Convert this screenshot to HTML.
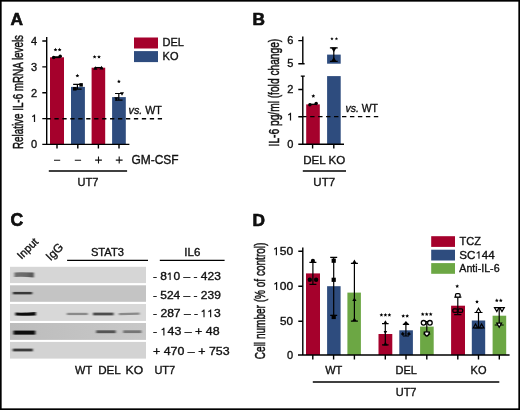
<!DOCTYPE html>
<html><head><meta charset="utf-8">
<style>
html,body{margin:0;padding:0;background:#fff;}
body{width:520px;height:410px;overflow:hidden;}
svg{display:block;will-change:transform;}
text{font-family:"Liberation Sans",sans-serif;fill:#111;stroke:#111;stroke-width:0.35px;}
</style></head>
<body>
<svg width="520" height="410" viewBox="0 0 520 410">
<defs>
<linearGradient id="g4" x1="0" x2="1" y1="0" y2="0"><stop offset="0" stop-color="#bcbcbc"/><stop offset="1" stop-color="#c8c8c8"/></linearGradient>
<linearGradient id="g1" x1="0" x2="1" y1="0" y2="0"><stop offset="0" stop-color="#707070"/><stop offset="0.6" stop-color="#6a6a6a"/><stop offset="1" stop-color="#505050"/></linearGradient>
<filter id="bl1" x="-20%" y="-100%" width="140%" height="300%"><feGaussianBlur stdDeviation="0.8 0.6"/></filter>
<filter id="nz" x="0" y="0" width="100%" height="100%"><feTurbulence type="fractalNoise" baseFrequency="0.9" numOctaves="1" seed="3" result="n"/><feColorMatrix in="n" type="matrix" values="0 0 0 0 0  0 0 0 0 0  0 0 0 0 0  0 0 0 0.10 0"/><feComposite in2="SourceGraphic" operator="in"/><feBlend in2="SourceGraphic" mode="normal"/></filter>
</defs>
<rect x="0" y="0" width="520" height="410" fill="#fff"/>
<rect x="0.83" y="0.83" width="518.34" height="408.34" fill="none" stroke="#000" stroke-width="1.66"/>

<text x="10.5" y="25.3" font-size="17.3" font-weight="bold" fill="#000" style="stroke:#000;stroke-width:0.6px">A</text>
<text transform="translate(22.8,92) rotate(-90)" font-size="15" text-anchor="middle" textLength="114" lengthAdjust="spacingAndGlyphs" style="stroke-width:0.5px">Relative IL-6 mRNA levels</text>
<text x="37" y="148.3" font-size="11" text-anchor="end">0</text>
<path d="M34.5 114.6 V121.9 M34.70 114.90 Q33.60 116.30 32.20 116.60" stroke="#111" stroke-width="1.2" fill="none"/>
<text x="37" y="96.6" font-size="11" text-anchor="end">2</text>
<text x="37" y="70.75" font-size="11" text-anchor="end">3</text>
<text x="37" y="44.9" font-size="11" text-anchor="end">4</text>
<rect x="50" y="57.3" width="14" height="87.1" fill="#a5012c"/>
<rect x="71" y="86.9" width="13.9" height="57.5" fill="#2e4c7e"/>
<rect x="91.6" y="67.7" width="13.6" height="76.7" fill="#a5012c"/>
<rect x="112.1" y="97.1" width="13.7" height="47.3" fill="#2e4c7e"/>
<g stroke="#000" stroke-width="1.4" fill="none">
<path d="M46.7 37 V144.4 M42.3 41 H46.7 M42.3 66.9 H46.7 M42.3 92.7 H46.7 M42.3 118.6 H46.7 M42.3 144.4 H129.4"/>
<path d="M57 144.4 V148.6 M77.8 144.4 V148.6 M98.4 144.4 V148.6 M119 144.4 V148.6"/>
</g>
<path d="M46.45 118.7 H162.1" stroke="#000" stroke-dasharray="4.3 3.65" stroke-width="1.4"/>
<path d="M54 57.2 H60" stroke="#000" stroke-width="1.9"/>
<circle cx="53.6" cy="57.6" r="1.75" fill="#000" stroke="#000" stroke-width="0"/><circle cx="60.2" cy="56.3" r="1.75" fill="#000" stroke="#000" stroke-width="0"/>
<path d="M77.4 84.4 V89.1 M73.15 84.4 H81.65 M73.15 89.1 H81.65" stroke="#000" stroke-width="1.2" fill="none"/>
<rect x="79.35" y="83.15" width="3.5" height="3.5" fill="#000" stroke="#000" stroke-width="0"/><rect x="73.05" y="87.05" width="3.5" height="3.5" fill="#000" stroke="#000" stroke-width="0"/>
<path d="M94.5 67.6 H102.5" stroke="#000" stroke-width="1.3"/>
<path d="M93.30 69.82 L95.40 66.18 L97.50 69.82Z" fill="#000" stroke="#000" stroke-width="0"/><path d="M99.40 69.42 L101.50 65.78 L103.60 69.42Z" fill="#000" stroke="#000" stroke-width="0"/>
<path d="M118.8 93.5 V100.2 M115.05 93.5 H122.55 M115.05 100.2 H122.55" stroke="#000" stroke-width="1.2" fill="none"/>
<path d="M120.00 92.17 L122.00 95.63 L124.00 92.17Z" fill="#000" stroke="#000" stroke-width="0"/><path d="M114.30 97.27 L116.30 100.73 L118.30 97.27Z" fill="#000" stroke="#000" stroke-width="0"/>
<polygon points="55.50,47.70 56.06,48.93 57.40,49.08 56.40,49.99 56.68,51.32 55.50,50.65 54.32,51.32 54.60,49.99 53.60,49.08 54.94,48.93" fill="#000"/><polygon points="59.60,47.70 60.16,48.93 61.50,49.08 60.50,49.99 60.78,51.32 59.60,50.65 58.42,51.32 58.70,49.99 57.70,49.08 59.04,48.93" fill="#000"/>
<polygon points="77.40,73.70 77.96,74.93 79.30,75.08 78.30,75.99 78.58,77.32 77.40,76.65 76.22,77.32 76.50,75.99 75.50,75.08 76.84,74.93" fill="#000"/>
<polygon points="94.60,54.90 95.16,56.13 96.50,56.28 95.50,57.19 95.78,58.52 94.60,57.85 93.42,58.52 93.70,57.19 92.70,56.28 94.04,56.13" fill="#000"/><polygon points="99.00,54.90 99.56,56.13 100.90,56.28 99.90,57.19 100.18,58.52 99.00,57.85 97.82,58.52 98.10,57.19 97.10,56.28 98.44,56.13" fill="#000"/>
<polygon points="118.90,79.50 119.46,80.73 120.80,80.88 119.80,81.79 120.08,83.12 118.90,82.45 117.72,83.12 118.00,81.79 117.00,80.88 118.34,80.73" fill="#000"/>
<rect x="134" y="37.5" width="24" height="11" fill="#a5012c"/>
<rect x="134" y="51.1" width="24" height="11" fill="#2e4c7e"/>
<text x="162.6" y="46.3" font-size="11">DEL</text>
<text x="162.6" y="59.9" font-size="11">KO</text>
<text x="128.6" y="114.1" font-size="11" textLength="33.3" lengthAdjust="spacingAndGlyphs"><tspan font-style="italic">vs.</tspan> WT</text>
<path d="M54 160.3 H60.2 M74.8 160.3 H81.1 M95.1 160.1 H101.9 M98.5 156.6 V163.6 M115.8 160.1 H122.6 M119.2 156.6 V163.6" stroke="#111" stroke-width="1.1"/>
<text x="131.4" y="163.6" font-size="12" textLength="47.2" lengthAdjust="spacingAndGlyphs">GM-CSF</text>
<path d="M48.8 171 H127.1" stroke="#000" stroke-width="1.3"/>
<text x="88" y="186" font-size="11" text-anchor="middle">UT7</text>
<text x="252.6" y="25.3" font-size="17.3" font-weight="bold" fill="#000" style="stroke:#000;stroke-width:0.6px">B</text>
<text transform="translate(278.9,92.6) rotate(-90)" font-size="15" text-anchor="middle" textLength="107.6" lengthAdjust="spacingAndGlyphs" style="stroke-width:0.5px">IL-6 pg/ml (fold change)</text>
<text x="293.3" y="44.1" font-size="11" text-anchor="end">6</text>
<text x="293.3" y="67.3" font-size="11" text-anchor="end">5</text>
<text x="293.3" y="93.0" font-size="11" text-anchor="end">2</text>
<path d="M290.5 112.8 V120.6 M290.70 113.10 Q289.60 114.50 288.20 114.80" stroke="#111" stroke-width="1.2" fill="none"/>
<text x="293.3" y="147.7" font-size="11" text-anchor="end">0</text>
<rect x="306.2" y="104.4" width="13.6" height="40" fill="#a5012c"/>
<rect x="327.1" y="54.6" width="13.6" height="9.1" fill="#2e4c7e"/>
<rect x="327.1" y="76.1" width="13.6" height="68.3" fill="#2e4c7e"/>
<g stroke="#000" stroke-width="1.4" fill="none">
<path d="M302.8 36.5 V63.8 M298.3 40.6 H302.8 M298.3 63.8 H304.6"/>
<path d="M302.8 76.1 V144.3 M300.8 76.1 H304.8 M298.3 89.5 H302.8 M298.3 116.8 H302.8 M298.3 144.3 H344"/>
<path d="M312.6 144.3 V148.6 M333.8 144.3 V148.6"/>
</g>
<path d="M302.2 116.6 H379" stroke="#000" stroke-width="1.4" stroke-dasharray="4.4 3.56"/>
<path d="M310 104.3 H316" stroke="#000" stroke-width="1.3"/>
<circle cx="309.9" cy="104.8" r="1.75" fill="#000" stroke="#000" stroke-width="0"/><circle cx="316.2" cy="103.5" r="1.75" fill="#000" stroke="#000" stroke-width="0"/>
<path d="M333.8 47.8 V61.3 M329.90 47.8 H337.70 M329.90 61.3 H337.70" stroke="#000" stroke-width="1.2" fill="none"/>
<path d="M331.00 47.38 L333.80 52.22 L336.60 47.38Z" fill="#000" stroke="#000" stroke-width="0"/><path d="M331.00 61.82 L333.80 56.98 L336.60 61.82Z" fill="#000" stroke="#000" stroke-width="0"/>
<polygon points="313.30,94.10 313.86,95.33 315.20,95.48 314.20,96.39 314.48,97.72 313.30,97.05 312.12,97.72 312.40,96.39 311.40,95.48 312.74,95.33" fill="#000"/>
<polygon points="331.95,37.05 332.42,38.15 333.61,38.26 332.71,39.05 332.98,40.22 331.95,39.60 330.92,40.22 331.19,39.05 330.29,38.26 331.48,38.15" fill="#000"/><polygon points="336.45,37.05 336.92,38.15 338.11,38.26 337.21,39.05 337.48,40.22 336.45,39.60 335.42,40.22 335.69,39.05 334.79,38.26 335.98,38.15" fill="#000"/>
<text x="345.5" y="111.8" font-size="11" textLength="32.5" lengthAdjust="spacingAndGlyphs"><tspan font-style="italic">vs.</tspan> WT</text>
<text x="303.2" y="163.9" font-size="11.5" textLength="42" lengthAdjust="spacingAndGlyphs">DEL KO</text>
<path d="M302.8 171 H346" stroke="#000" stroke-width="1.3"/>
<text x="324.2" y="186.3" font-size="11.5" text-anchor="middle">UT7</text>
<text x="10.6" y="226.1" font-size="17.6" font-weight="bold" fill="#000" style="stroke:#000;stroke-width:0.6px">C</text>
<text transform="translate(21.6,259.8) rotate(-45)" font-size="11">Input</text>
<text transform="translate(50.6,261.2) rotate(-45)" font-size="11.8">IgG</text>
<text x="107.4" y="256" font-size="11" text-anchor="middle" textLength="33" lengthAdjust="spacingAndGlyphs">STAT3</text>
<path d="M67.1 260.4 H148" stroke="#000" stroke-width="1.3"/>
<text x="192.3" y="256" font-size="11.5" text-anchor="middle" textLength="16" lengthAdjust="spacingAndGlyphs">IL6</text>
<path d="M159.8 260.4 H224.6" stroke="#000" stroke-width="1.3"/>
<rect x="10" y="266.8" width="136" height="16.3" fill="#d6d6d6"/>
<rect x="10" y="285.3" width="136" height="16.5" fill="#c4c4c4"/>
<rect x="10" y="304.0" width="136" height="16.9" fill="#d8d8d8"/>
<rect x="10" y="323.0" width="136" height="16.9" fill="url(#g4)"/>
<rect x="10" y="341.9" width="136" height="16.7" fill="#d3d3d3"/>
<g filter="url(#bl1)">
<path d="M14.4 272.4 Q24 272.2 33.8 272.6 L33.8 277.4 Q24 276.6 14.4 277.0Z" fill="url(#g1)"/>
<path d="M12.9 291.9 H32.2 V294.4 H12.9Z" fill="#383838"/>
<path d="M15.4 312.6 Q25 313.0 35.8 312.0 L35.8 315.4 Q25 315.8 15.4 315.6Z" fill="#111"/>
<rect x="66.8" y="312.8" width="21" height="2.3" fill="#8a8a8a"/>
<rect x="93" y="312.6" width="20.6" height="2.8" fill="#4e4e4e"/>
<path d="M118.8 313 L139.6 312.4 L139.6 314.8 L118.8 315.3Z" fill="#8a8a8a"/>
<rect x="13.5" y="330.6" width="21.8" height="4" fill="#0a0a0a"/>
<rect x="96.2" y="330.3" width="19.5" height="2.9" fill="#555"/>
<rect x="123.2" y="330.3" width="18.2" height="2.8" fill="#747474"/>
<rect x="12.8" y="348.6" width="20" height="2.8" fill="#3a3a3a"/>
</g>
<text x="153.0" y="280.0" font-size="11" textLength="67.8" lengthAdjust="spacingAndGlyphs">- 8<tspan style="fill:none;stroke:none">1</tspan>0 – - 423</text><path d="M170.1 272.4 V280.0 M170.30 272.70 Q169.20 274.10 167.80 274.40" stroke="#111" stroke-width="1.15" fill="none"/>
<text x="153.0" y="298.6" font-size="11" textLength="67.8" lengthAdjust="spacingAndGlyphs">- 524 – - 239</text>
<text x="153.0" y="317.2" font-size="11" textLength="67.8" lengthAdjust="spacingAndGlyphs">- 287 – - <tspan style="fill:none;stroke:none">1</tspan><tspan style="fill:none;stroke:none">1</tspan>3</text><path d="M204.0 309.6 V317.2 M204.20 309.90 Q203.10 311.30 201.70 311.60" stroke="#111" stroke-width="1.15" fill="none"/><path d="M210.65 309.6 V317.2 M210.85 309.90 Q209.75 311.30 208.35 311.60" stroke="#111" stroke-width="1.15" fill="none"/>
<text x="153.0" y="335.4" font-size="11" textLength="66.6" lengthAdjust="spacingAndGlyphs">- <tspan style="fill:none;stroke:none">1</tspan>43 – + 48</text><path d="M163.88 327.8 V335.4 M164.08 328.10 Q162.98 329.50 161.58 329.80" stroke="#111" stroke-width="1.15" fill="none"/>
<text x="153.0" y="354.6" font-size="11" textLength="76.6" lengthAdjust="spacingAndGlyphs">+ 470 – + 753</text>
<text x="75.0" y="373.8" font-size="11">WT</text>
<text x="98.2" y="373.8" font-size="11" textLength="22.6" lengthAdjust="spacingAndGlyphs">DEL</text>
<text x="125.6" y="373.8" font-size="11" textLength="17.5" lengthAdjust="spacingAndGlyphs">KO</text>
<text x="154.4" y="373.8" font-size="11">UT7</text>
<text x="252.6" y="226.4" font-size="17.3" font-weight="bold" fill="#000" style="stroke:#000;stroke-width:0.6px">D</text>
<text transform="translate(264.6,300.9) rotate(-90)" font-size="15" text-anchor="middle" textLength="116.6" lengthAdjust="spacingAndGlyphs" style="stroke-width:0.5px">Cell number (% of control)</text>
<text x="293.1" y="255.2" font-size="11" text-anchor="end" textLength="13.4" lengthAdjust="spacingAndGlyphs">50</text>
<text x="293.1" y="290.1" font-size="11" text-anchor="end" textLength="13.4" lengthAdjust="spacingAndGlyphs">00</text>
<text x="293.1" y="325.1" font-size="11" text-anchor="end" textLength="13.0" lengthAdjust="spacingAndGlyphs">50</text>
<text x="293.1" y="358.9" font-size="11" text-anchor="end">0</text>
<path d="M276.4 247.2 V255.2 M276.60 247.50 Q275.50 248.90 274.10 249.20" stroke="#111" stroke-width="1.2" fill="none"/>
<path d="M276.6 282.1 V289.9 M276.80 282.40 Q275.70 283.80 274.30 284.10" stroke="#111" stroke-width="1.2" fill="none"/>
<rect x="306" y="273.4" width="14" height="81.6" fill="#a5012c"/>
<rect x="327.1" y="286.2" width="13.5" height="68.8" fill="#2e4c7e"/>
<rect x="347.4" y="292.6" width="13.5" height="62.4" fill="#6ca744"/>
<rect x="378.5" y="334" width="13.8" height="21.0" fill="#a5012c"/>
<rect x="399.3" y="330.3" width="13.6" height="24.7" fill="#2e4c7e"/>
<rect x="420.1" y="326.6" width="13.6" height="28.4" fill="#6ca744"/>
<rect x="451.1" y="305.7" width="13.9" height="49.3" fill="#a5012c"/>
<rect x="471.8" y="320.5" width="13.4" height="34.5" fill="#2e4c7e"/>
<rect x="492.6" y="315.7" width="13.6" height="39.3" fill="#6ca744"/>
<g stroke="#000" stroke-width="1.4" fill="none">
<path d="M302.8 247.5 V355 M298.3 251.3 H302.8 M298.3 286.2 H302.8 M298.3 321.2 H302.8 M298 354.95 H509.6"/>
<path d="M312.8 355 V359.4 M333.6 355 V359.4 M354.4 355 V359.4 M385.3 355 V359.4 M406 355 V359.4 M426.8 355 V359.4 M457.8 355 V359.4 M478.5 355 V359.4 M499.3 355 V359.4"/>
</g>
<path d="M312.9 262.4 V284.3 M309.40 262.4 H316.40 M309.40 284.3 H316.40" stroke="#000" stroke-width="1.2" fill="none"/>
<path d="M333.7 257.3 V315.4 M330.20 257.3 H337.20 M330.20 315.4 H337.20" stroke="#000" stroke-width="1.2" fill="none"/>
<path d="M354.4 263.4 V321.2 M350.90 263.4 H357.90 M350.90 321.2 H357.90" stroke="#000" stroke-width="1.2" fill="none"/>
<path d="M385.3 323.6 V344.8 M382.00 323.6 H388.60 M382.00 344.8 H388.60" stroke="#000" stroke-width="1.2" fill="none"/>
<path d="M405.9 324.4 V336.0 M402.90 324.4 H408.90 M402.90 336.0 H408.90" stroke="#000" stroke-width="1.2" fill="none"/>
<path d="M426.8 321.5 V334.0 M423.30 321.5 H430.30 M423.30 334.0 H430.30" stroke="#000" stroke-width="1.2" fill="none"/>
<path d="M457.8 297.1 V314.7 M454.20 297.1 H461.40 M454.20 314.7 H461.40" stroke="#000" stroke-width="1.2" fill="none"/>
<path d="M478.5 312.5 V328.0 M474.50 312.5 H482.50 M474.50 328.0 H482.50" stroke="#000" stroke-width="1.2" fill="none"/>
<path d="M499.2 307.6 V325.0 M494.70 307.6 H503.70 M494.70 325.0 H503.70" stroke="#000" stroke-width="1.2" fill="none"/>
<circle cx="312.9" cy="260.9" r="2.1" fill="#000" stroke="#000" stroke-width="0"/>
<circle cx="309.8" cy="279.8" r="2.2" fill="#000" stroke="#000" stroke-width="0"/><circle cx="316.1" cy="279.8" r="2.2" fill="#000" stroke="#000" stroke-width="0"/>
<rect x="331.60" y="258.60" width="4.2" height="4.2" fill="#000" stroke="#000" stroke-width="0"/><rect x="331.60" y="277.70" width="4.2" height="4.2" fill="#000" stroke="#000" stroke-width="0"/><rect x="331.60" y="314.90" width="4.2" height="4.2" fill="#000" stroke="#000" stroke-width="0"/>
<path d="M352.10 263.59 L354.40 259.61 L356.70 263.59Z" fill="#000" stroke="#000" stroke-width="0"/><path d="M352.30 301.12 L354.40 297.48 L356.50 301.12Z" fill="#000" stroke="#000" stroke-width="0"/><path d="M352.30 321.12 L354.40 317.48 L356.50 321.12Z" fill="#000" stroke="#000" stroke-width="0"/>
<path d="M383.20 324.11 L385.40 320.29 L387.60 324.11Z" fill="#000" stroke="#000" stroke-width="0"/><path d="M383.60 331.04 L385.40 334.16 L387.20 331.04Z" fill="#000" stroke="#000" stroke-width="0"/><path d="M383.20 345.51 L385.40 341.69 L387.60 345.51Z" fill="#000" stroke="#000" stroke-width="0"/>
<path d="M402.6 325.0 L405.9 321.1 L409.5 325.0Z" fill="#000"/>
<path d="M401.2 333.9 L402.8 332.3 L404.4 333.9 L402.8 335.5Z M407.3 333.9 L408.9 332.3 L410.5 333.9 L408.9 335.5Z" fill="#000" stroke="#000" stroke-width="0.6"/>
<circle cx="423.6" cy="322.8" r="2.3" fill="#fff" stroke="#000" stroke-width="1.3"/><circle cx="429.9" cy="322.8" r="2.3" fill="#fff" stroke="#000" stroke-width="1.3"/><path d="M424.2 332.2 Q426.8 331.4 429.4 332.2 Q429 335.6 426.8 336.2 Q424.6 335.6 424.2 332.2Z" fill="#fff" stroke="#000" stroke-width="1.3"/>
<rect x="455.5" y="293.6" width="4.6" height="3.6" rx="1.3" fill="#fff" stroke="#000" stroke-width="1.3"/>
<rect x="452.8" y="308.9" width="4.6" height="3.4" rx="1.2" fill="none" stroke="#000" stroke-width="1.3"/><rect x="458.1" y="308.9" width="4.6" height="3.4" rx="1.2" fill="none" stroke="#000" stroke-width="1.3"/>
<path d="M476.10 312.48 L478.50 308.32 L480.90 312.48Z" fill="#fff" stroke="#000" stroke-width="1.2"/><path d="M473.20 327.99 L475.50 324.01 L477.80 327.99Z" fill="none" stroke="#000" stroke-width="1.2"/><path d="M479.30 327.99 L481.60 324.01 L483.90 327.99Z" fill="none" stroke="#000" stroke-width="1.2"/>
<path d="M494.50 307.61 L496.80 311.59 L499.10 307.61Z" fill="#fff" stroke="#000" stroke-width="1.2"/><path d="M499.70 307.61 L502.00 311.59 L504.30 307.61Z" fill="#fff" stroke="#000" stroke-width="1.2"/><path d="M496.80 323.12 L499.20 327.28 L501.60 323.12Z" fill="#fff" stroke="#000" stroke-width="1.2"/>
<polygon points="381.40,313.00 381.96,314.23 383.30,314.38 382.30,315.29 382.58,316.62 381.40,315.95 380.22,316.62 380.50,315.29 379.50,314.38 380.84,314.23" fill="#000"/><polygon points="385.40,313.00 385.96,314.23 387.30,314.38 386.30,315.29 386.58,316.62 385.40,315.95 384.22,316.62 384.50,315.29 383.50,314.38 384.84,314.23" fill="#000"/><polygon points="389.40,313.00 389.96,314.23 391.30,314.38 390.30,315.29 390.58,316.62 389.40,315.95 388.22,316.62 388.50,315.29 387.50,314.38 388.84,314.23" fill="#000"/>
<polygon points="403.20,314.00 403.76,315.23 405.10,315.38 404.10,316.29 404.38,317.62 403.20,316.95 402.02,317.62 402.30,316.29 401.30,315.38 402.64,315.23" fill="#000"/><polygon points="407.20,314.00 407.76,315.23 409.10,315.38 408.10,316.29 408.38,317.62 407.20,316.95 406.02,317.62 406.30,316.29 405.30,315.38 406.64,315.23" fill="#000"/>
<polygon points="422.70,312.20 423.26,313.43 424.60,313.58 423.60,314.49 423.88,315.82 422.70,315.15 421.52,315.82 421.80,314.49 420.80,313.58 422.14,313.43" fill="#000"/><polygon points="426.70,312.20 427.26,313.43 428.60,313.58 427.60,314.49 427.88,315.82 426.70,315.15 425.52,315.82 425.80,314.49 424.80,313.58 426.14,313.43" fill="#000"/><polygon points="430.70,312.20 431.26,313.43 432.60,313.58 431.60,314.49 431.88,315.82 430.70,315.15 429.52,315.82 429.80,314.49 428.80,313.58 430.14,313.43" fill="#000"/>
<polygon points="457.20,284.20 457.76,285.43 459.10,285.58 458.10,286.49 458.38,287.82 457.20,287.15 456.02,287.82 456.30,286.49 455.30,285.58 456.64,285.43" fill="#000"/>
<polygon points="477.00,299.80 477.56,301.03 478.90,301.18 477.90,302.09 478.18,303.42 477.00,302.75 475.82,303.42 476.10,302.09 475.10,301.18 476.44,301.03" fill="#000"/>
<polygon points="496.80,298.50 497.36,299.73 498.70,299.88 497.70,300.79 497.98,302.12 496.80,301.45 495.62,302.12 495.90,300.79 494.90,299.88 496.24,299.73" fill="#000"/><polygon points="500.80,298.50 501.36,299.73 502.70,299.88 501.70,300.79 501.98,302.12 500.80,301.45 499.62,302.12 499.90,300.79 498.90,299.88 500.24,299.73" fill="#000"/>
<rect x="431.2" y="236.2" width="23.8" height="10.7" fill="#a5012c"/>
<rect x="431.2" y="249.7" width="23.8" height="10.8" fill="#2e4c7e"/>
<rect x="431.2" y="263.1" width="23.8" height="10.7" fill="#6ca744"/>
<text x="459.6" y="245.2" font-size="11">TCZ</text>
<text x="459.2" y="258.8" font-size="11" textLength="35.5" lengthAdjust="spacingAndGlyphs">SC<tspan style="fill:none;stroke:none">1</tspan>44</text><path d="M478.97 251.2 V258.8 M479.17 251.50 Q478.07 252.90 476.67 253.20" stroke="#111" stroke-width="1.15" fill="none"/>
<text x="459.3" y="271.5" font-size="11" textLength="40.3" lengthAdjust="spacingAndGlyphs">Anti-IL-6</text>
<text x="333.8" y="374" font-size="11" text-anchor="middle">WT</text>
<text x="406.3" y="374" font-size="11" text-anchor="middle">DEL</text>
<text x="478.5" y="374.4" font-size="11" text-anchor="middle">KO</text>
<text x="406.1" y="396.3" font-size="11" text-anchor="middle">UT7</text>
<path d="M312.8 382 H499.3" stroke="#000" stroke-width="1.3"/>
</svg>
</body></html>
